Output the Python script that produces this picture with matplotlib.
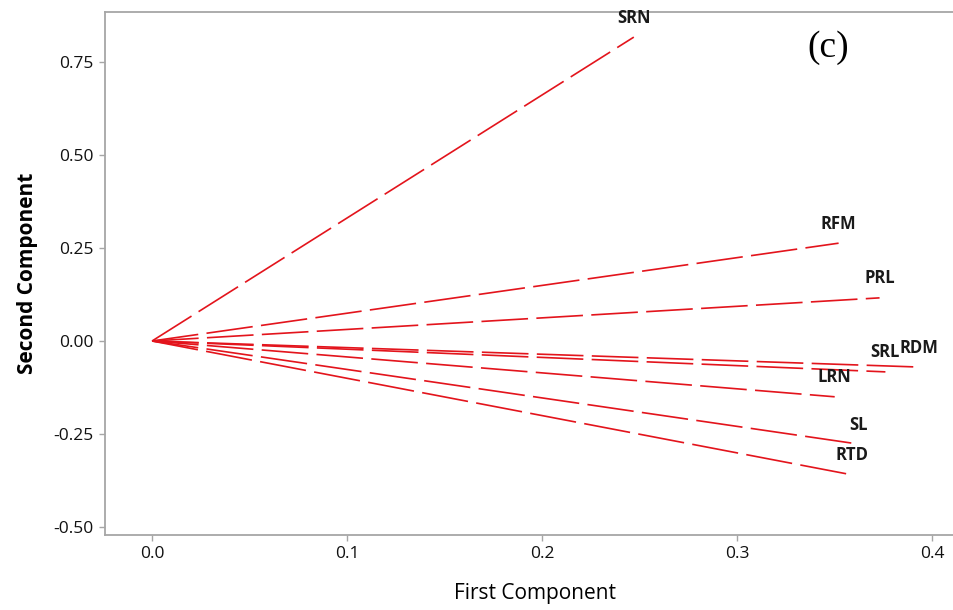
import matplotlib
matplotlib.use('Agg')
import matplotlib.pyplot as plt

plt.rcParams['font.family'] = ['Open Sans', 'DejaVu Sans']
plt.rcParams['axes.unicode_minus'] = False

# Loadings
variables = ['SRN', 'RFM', 'PRL', 'RDM', 'SRL', 'LRN', 'SL', 'RTD']
first_comp = [0.247, 0.352, 0.373, 0.393, 0.376, 0.350, 0.362, 0.359]
second_comp = [0.817, 0.263, 0.116, -0.070, -0.083, -0.150, -0.277, -0.360]

x_ticks = [0.0, 0.1, 0.2, 0.3, 0.4]
x_ticklabels = ['0.0', '0.1', '0.2', '0.3', '0.4']
y_ticks = [-0.50, -0.25, 0.00, 0.25, 0.50, 0.75]
y_ticklabels = ['-0.50', '-0.25', '0.00', '0.25', '0.50', '0.75']

fig = plt.figure(figsize=(9.54, 6.10), dpi=100)
# right edge of the frame runs off the picture, as in the original
ax = fig.add_axes([0.1101, 0.123, 0.91, 0.857])

red = '#E3141C'
for name, px, py in zip(variables, first_comp, second_comp):
    ax.plot([0, px], [0, py], color=red, lw=1.2, dashes=(28, 5))
    ax.annotate(name, (px, py), xytext=(0, 14), textcoords='offset points',
                ha='center', va='center', fontsize=12, fontweight='bold',
                color='#1a1a1a')

ax.set_xlim(-0.0241, 0.4210)
ax.set_ylim(-0.5215, 0.884)
ax.set_xticks(x_ticks)
ax.set_xticklabels(x_ticklabels)
ax.set_yticks(y_ticks)
ax.set_yticklabels(y_ticklabels)

grey = '#A6A6A6'
for side in ax.spines.values():
    side.set_color(grey)
    side.set_linewidth(1.3)
ax.spines['right'].set_visible(False)
ax.tick_params(direction='out', length=4, width=1, color=grey,
               labelsize=12.5, labelcolor='#111111', pad=4)

ax.set_xlabel('First Component', fontsize=15)
ax.xaxis.set_label_coords(0.4954, -0.092)
ax.set_ylabel('Second Component', fontsize=15, fontweight='bold', labelpad=11)

ax.text(0.833, 0.933, '(c)', transform=ax.transAxes, ha='center', va='center',
        fontsize=27, family='Liberation Serif')

fig.savefig('out.png', dpi=100)
